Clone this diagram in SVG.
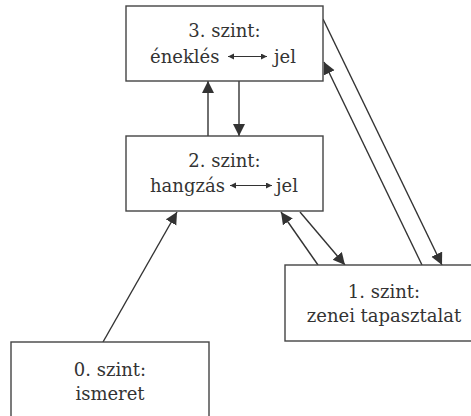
<svg xmlns="http://www.w3.org/2000/svg" width="471" height="416" viewBox="0 0 471 416">
<defs>
<style>
.box{fill:#fff;stroke:#444;stroke-width:1.4}
.t{font-family:"DejaVu Serif","Liberation Serif",serif;font-size:18px;fill:#333}
.c{text-anchor:middle}
.con{stroke:#333;stroke-width:1.4;fill:none}
.small{stroke:#333;stroke-width:1.2;fill:none}
</style>
<marker id="ah" markerUnits="userSpaceOnUse" markerWidth="13" markerHeight="13" refX="12" refY="6" orient="auto">
<path d="M0,0 L12,6 L0,12 z" fill="#333"/>
</marker>
<marker id="sa" markerUnits="userSpaceOnUse" markerWidth="7" markerHeight="7" refX="6" refY="3" orient="auto-start-reverse">
<path d="M0,0 L6,3 L0,6 z" fill="#333"/>
</marker>
</defs>
<g id="connectors">
<line class="con" x1="208" y1="136" x2="208" y2="81" marker-end="url(#ah)"/>
<line class="con" x1="239" y1="81" x2="239" y2="136" marker-end="url(#ah)"/>
<line class="con" x1="103" y1="342" x2="177" y2="212" marker-end="url(#ah)"/>
<line class="con" x1="318" y1="265" x2="281" y2="212" marker-end="url(#ah)"/>
<line class="con" x1="300" y1="212" x2="345" y2="265" marker-end="url(#ah)"/>
<line class="con" x1="323" y1="19" x2="442" y2="265" marker-end="url(#ah)"/>
<line class="con" x1="422" y1="265" x2="324" y2="62" marker-end="url(#ah)"/>
</g>
<g id="node3">
<rect class="box" x="126" y="6" width="197" height="75"/>
<text class="t c" x="224.5" y="37">3. szint:</text>
<text class="t" x="150" y="63">éneklés</text>
<line class="small" x1="228" y1="56.5" x2="267" y2="56.5" marker-start="url(#sa)" marker-end="url(#sa)"/>
<text class="t" x="274" y="63">jel</text>
</g>
<g id="node2">
<rect class="box" x="126" y="136" width="197" height="75"/>
<text class="t c" x="224.5" y="167">2. szint:</text>
<text class="t" x="150" y="192">hangzás</text>
<line class="small" x1="230" y1="185.5" x2="272" y2="185.5" marker-start="url(#sa)" marker-end="url(#sa)"/>
<text class="t" x="276" y="192">jel</text>
</g>
<g id="node1">
<rect class="box" x="285" y="265" width="198" height="76"/>
<text class="t c" x="384" y="298">1. szint:</text>
<text class="t c" x="384" y="322">zenei tapasztalat</text>
</g>
<g id="node0">
<rect class="box" x="11" y="342" width="198" height="80"/>
<text class="t c" x="110" y="376">0. szint:</text>
<text class="t c" x="110" y="400">ismeret</text>
</g>
</svg>
